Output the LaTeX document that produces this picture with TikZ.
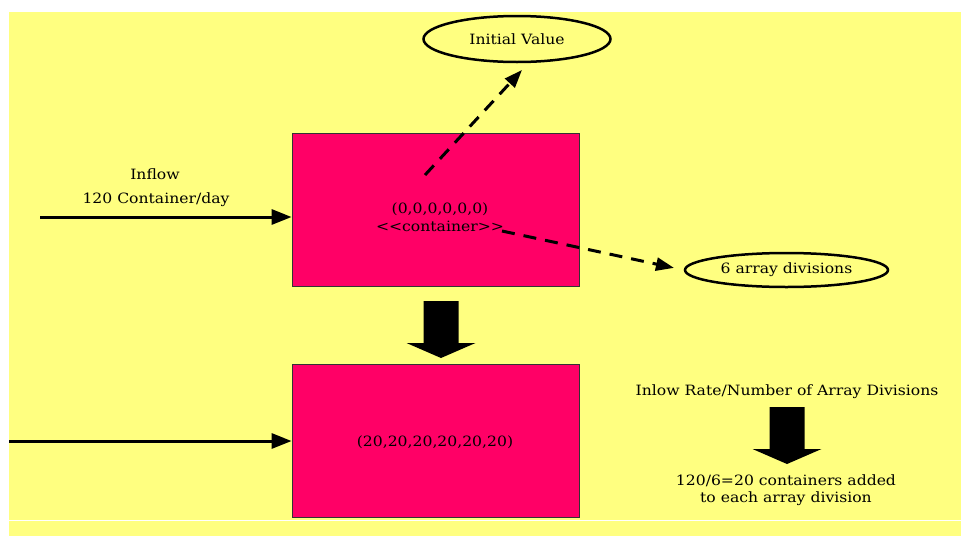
\documentclass[tikz,border=0pt]{standalone}
\usepackage{fontspec}
\setmainfont{DejaVu Serif}[FakeStretch=1.1]
\usetikzlibrary{arrows.meta,shapes.geometric}
\definecolor{bgyellow}{RGB}{255,255,128}
\definecolor{boxpink}{RGB}{255,0,102}
\tikzset{
  statebox/.style={draw=black!80,line width=0.8pt,fill=boxpink,minimum width=287pt,minimum height=153pt,align=center,inner sep=0pt},
  valoval/.style={ellipse,draw,line width=2.5pt,inner sep=0pt},
  flow/.style={line width=3pt,-{Triangle[length=20pt,width=15pt]}},
  link/.style={line width=3pt,dash pattern=on 13pt off 9pt,-{Triangle[length=18pt,width=13pt]}},
  lbl/.style={inner sep=0pt,align=center}
}
\begin{document}
\begin{tikzpicture}[x=1pt,y=-1pt,font=\fontsize{14.2}{17}\selectfont]
  \useasboundingbox (0,0) rectangle (961,536);
  \fill[white] (0,0) rectangle (961,536);
  \fill[bgyellow] (9,12) rectangle (961,536);
  \draw[white,line width=1.5pt] (9,520.5) -- (961,520.5);

  % the two container states
  \node[statebox] (first) at (435.5,209.5) {};
  \node[lbl] (firsttext) at (440,217) {(0,0,0,0,0,0)\\[1pt]<{}<container>{}>};
  \node[statebox] (second) at (435.5,440.5) {};
  \node[lbl] (secondtext) at (435,442) {(20,20,20,20,20,20)};

  % attributes
  \node[valoval,minimum width=187pt,minimum height=46pt] (init) at (517,39) {Initial Value};
  \node[valoval,minimum width=203pt,minimum height=34pt] (div) at (786.5,270) {6 array divisions};

  \coordinate (initfrom) at (425,175);
  \coordinate (initto) at (522,70);
  \coordinate (divfrom) at (502,231);
  \draw[link] (initfrom) -- (initto);
  \draw[link,shorten >=10pt] (divfrom) -- (div.west);

  % inflows
  \coordinate (inA) at (40,217);
  \coordinate (inB) at (9,441);
  \node[lbl] (inflow) at (155,174) {Inflow};
  \node[lbl] (rate) at (156,200) {120 Container/day};
  \draw[flow] (inA) -- (inA -| first.west);
  \draw[flow] (inB) -- (inB -| second.west);

  % explanation
  \node[lbl] (rule) at (787,392) {Inlow Rate/Number of Array Divisions};
  \node[lbl] (result) at (786,490) {120/6=20 containers added\\to each array division};

  % block arrows
  \foreach \bx/\by in {441/301, 787/407} {
    \fill (\bx-17.5,\by) -- (\bx+17.5,\by) -- (\bx+17.5,\by+42) -- (\bx+34.5,\by+42)
      -- (\bx,\by+57) -- (\bx-34.5,\by+42) -- (\bx-17.5,\by+42) -- cycle;
  }
\end{tikzpicture}
\end{document}
